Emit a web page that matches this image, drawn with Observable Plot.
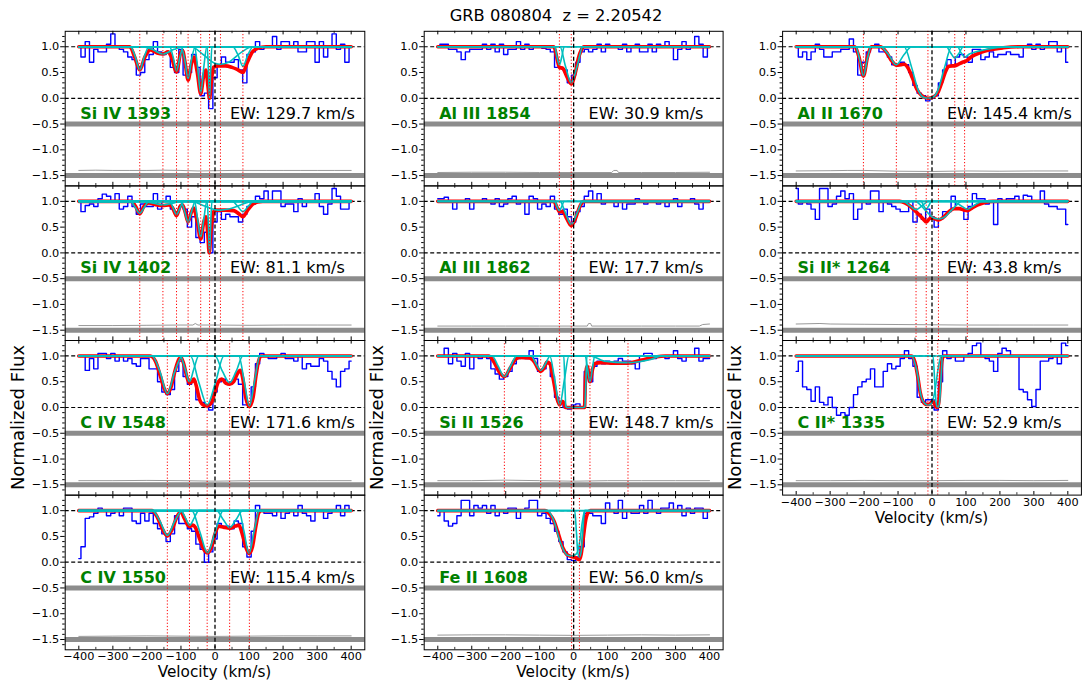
<!DOCTYPE html>
<html><head><meta charset="utf-8">
<script src="https://cdn.jsdelivr.net/npm/d3@7"></script>
<script src="https://cdn.jsdelivr.net/npm/@observablehq/plot@0.6"></script>
<style>
body{margin:0;background:#fff;font-family:"DejaVu Sans",sans-serif;}
#fig{position:relative;width:1082px;height:685px;overflow:hidden;background:#fff;}
</style></head><body><div id="fig"></div><script>
// ---------- velocity grid of the spectra (km/s) ----------
const VEL = [-400,-387.5,-375,-362.5,-350,-337.5,-325,-312.5,-300,-287.5,-275,-262.5,-250,-237.5,-225,-212.5,-200,-187.5,-175,-162.5,-150,-137.5,-125,-112.5,-100,-87.5,-75,-62.5,-50,-37.5,-25,-12.5,0,12.5,25,37.5,50,62.5,75,87.5,100,112.5,125,137.5,150,162.5,175,187.5,200,212.5,225,237.5,250,262.5,275,287.5,300,312.5,325,337.5,350,362.5,375,387.5,400];

// ---------- observed normalized flux ----------
const fSiIV1393 = [1.0,0.8,1.1,0.7,0.95,0.9,0.9,1.05,1.25,1.0,0.95,0.9,0.8,0.75,0.45,0.5,0.75,0.85,1.1,0.9,0.85,0.88,0.6,0.5,0.95,0.45,0.5,0.85,0.6,0.05,0.1,-0.2,0.4,0.65,0.8,0.7,0.7,0.75,0.55,0.3,0.85,0.9,1.1,0.95,1.0,1.0,1.2,0.95,1.1,1.1,1.0,1.1,0.9,0.9,1.1,1.1,0.7,1.1,0.8,1.0,1.25,0.95,1.05,0.7,1.0];
const fSiIV1402 = [1.0,0.8,0.92,0.95,0.9,1.05,1.14,1.1,1.0,1.15,0.85,0.9,1.1,0.9,0.75,0.95,0.9,0.9,1.15,0.85,1.0,1.1,0.85,0.8,0.9,0.85,0.5,0.7,0.3,0.2,0.4,0.0,0.6,0.8,0.65,0.75,0.7,0.7,0.6,0.75,0.9,0.95,1.1,1.05,1.2,1.0,1.2,1.2,0.9,0.95,0.95,0.8,1.05,0.9,1.0,1.0,1.15,0.9,0.75,0.95,1.25,1.1,0.85,0.85,1.0];
const fCIV1548 = [1.0,1.0,0.72,0.95,0.75,1.05,1.05,0.95,1.05,0.9,1.0,0.9,0.95,0.85,0.8,0.95,0.95,0.75,0.75,0.5,0.3,0.25,0.35,0.7,0.9,0.6,0.45,0.5,0.15,0.1,0.05,-0.05,0.3,0.5,0.55,0.45,0.5,0.55,0.45,0.05,0.05,0.4,0.85,1.05,1.0,0.95,0.95,1.0,1.05,0.95,0.95,0.9,1.0,0.75,0.85,0.8,0.8,0.95,0.9,0.7,0.55,0.4,0.7,0.75,0.9];
const fCIV1550 = [0.07,0.3,0.85,0.88,0.95,1.05,1.0,0.9,0.95,1.0,0.9,1.05,1.05,0.8,0.75,0.95,0.8,0.95,0.75,0.65,0.55,0.4,0.55,0.9,0.75,0.75,0.65,0.6,0.35,0.25,0.0,0.2,0.45,0.75,0.7,0.7,0.65,0.8,0.75,0.3,0.1,0.6,1.1,1.0,0.95,0.95,0.9,1.0,0.85,0.95,1.0,0.9,1.1,0.95,0.9,0.8,1.0,1.0,0.85,0.95,1.0,1.1,0.9,1.1,1.0];
const fAlIII1854 = [1.0,1.05,1.05,0.95,0.95,0.9,0.75,0.9,0.95,0.95,0.95,1.05,0.95,1.05,0.9,1.05,0.85,0.95,0.95,1.1,0.95,1.05,0.95,1.0,1.0,0.97,0.95,0.9,0.6,0.6,0.55,0.3,0.45,0.7,0.9,0.95,0.9,0.95,1.05,0.9,1.05,1.0,1.0,0.95,1.05,0.9,1.0,1.05,0.9,0.9,1.05,0.9,1.05,1.0,1.1,1.0,0.75,0.95,1.1,0.95,1.0,1.2,1.05,0.8,1.0];
const fAlIII1862 = [1.05,1.05,1.08,1.0,0.85,1.0,1.0,1.05,0.85,1.0,1.0,1.05,1.0,0.95,1.05,0.9,0.95,1.05,1.1,0.95,1.0,0.75,1.1,1.05,0.85,0.95,0.9,1.1,0.85,0.75,0.85,0.7,0.6,0.8,0.9,1.1,1.2,1.0,1.15,0.95,1.0,1.0,0.9,1.0,0.85,0.95,0.95,1.05,1.0,0.95,1.0,1.0,0.95,1.0,0.9,1.0,1.05,0.9,1.0,1.0,1.05,0.95,0.85,1.0,1.0];
const fSiII1526 = [1.0,1.0,1.15,0.85,1.05,0.9,0.8,1.05,0.75,1.0,0.95,1.0,0.95,0.75,0.65,0.55,0.6,0.7,0.85,0.95,1.0,0.95,1.1,0.95,0.7,0.75,0.85,0.6,0.2,0.1,0.0,-0.03,0.05,0.07,0.0,0.7,0.5,0.8,0.9,0.85,0.9,0.85,0.9,0.95,0.9,0.9,0.85,0.75,1.0,1.05,1.05,0.95,1.0,1.0,0.95,1.0,1.1,0.95,0.9,1.0,1.0,1.15,0.9,0.95,0.95];
const fFeII1608 = [0.9,1.0,0.8,0.7,0.75,0.9,1.2,1.2,0.9,1.1,1.05,1.1,0.95,1.1,0.9,1.0,0.95,1.05,1.05,0.85,1.0,1.05,1.2,1.2,0.9,0.95,0.85,0.75,0.6,0.4,0.2,0.05,0.03,0.1,0.3,0.95,0.95,0.9,0.9,0.75,1.15,1.0,0.95,1.2,0.85,1.0,0.95,0.95,1.1,0.95,1.2,1.0,0.95,1.05,1.05,1.15,1.0,1.1,0.9,1.05,0.95,1.05,1.05,0.85,1.0];
const fAlII1670 = [1.0,0.8,0.9,0.75,0.9,1.05,0.95,0.8,0.8,0.9,0.9,0.95,0.95,1.15,0.9,0.45,0.7,0.9,1.0,1.05,0.9,0.9,0.8,0.65,0.65,0.7,0.65,0.5,0.25,0.1,0.05,-0.05,0.0,0.05,0.3,0.55,0.75,0.65,0.8,0.85,0.8,0.7,0.95,0.95,0.75,0.8,0.9,0.8,0.85,0.85,0.9,0.85,0.85,0.8,1.0,1.05,0.95,1.05,0.95,1.0,1.1,1.1,0.9,1.0,0.7];
const fSiIIs1264 = [1.25,0.95,1.0,0.95,0.85,0.65,1.25,1.25,0.9,0.95,1.1,1.2,1.05,1.15,0.65,0.85,1.0,0.95,1.2,1.2,0.8,1.0,0.95,0.9,0.85,0.8,0.8,1.0,0.6,0.75,0.65,0.85,0.7,0.5,0.65,0.8,0.8,1.1,0.85,0.85,0.65,0.9,1.15,1.05,1.05,0.95,1.0,0.55,1.05,1.0,1.05,1.05,1.1,1.0,1.12,1.1,1.0,1.0,1.2,0.95,0.9,0.9,0.85,0.85,0.55];
const fCIIs1335 = [0.7,0.9,0.4,0.35,0.12,0.4,0.1,0.05,0.2,0.0,-0.15,-0.1,-0.15,0.0,0.25,0.4,0.5,0.55,0.75,0.4,0.4,0.7,0.85,0.75,0.8,0.95,1.1,0.95,0.8,0.2,0.1,0.15,0.15,-0.05,0.5,1.1,0.95,1.0,0.9,0.9,1.0,1.05,1.2,1.25,1.0,0.95,0.9,0.7,1.05,1.15,1.1,1.0,1.0,0.35,0.3,0.15,0.02,0.35,0.9,0.9,0.95,1.0,0.85,1.25,1.2];

// ---------- flux errors [velocity, sigma] (drawn at -1.5 + sigma) ----------
const eSiIV1393 = [[-400,0.1],[-350,0.105],[-300,0.1],[-250,0.1],[-200,0.1],[-150,0.105],[-100,0.1],[-50,0.09],[0,0.095],[50,0.1],[100,0.1],[150,0.1],[200,0.1],[250,0.1],[300,0.1],[350,0.1],[400,0.1]];
const eSiIV1402 = [[-400,0.09],[-300,0.09],[-200,0.095],[-100,0.1],[-65,0.1],[-58,0.13],[-50,0.1],[0,0.1],[100,0.095],[200,0.1],[300,0.1],[400,0.1]];
const eCIV1548 = [[-400,0.08],[-300,0.08],[-200,0.085],[-100,0.08],[0,0.07],[100,0.08],[200,0.08],[300,0.08],[400,0.08]];
const eCIV1550 = [[-400,0.06],[-300,0.065],[-200,0.07],[-100,0.065],[0,0.06],[100,0.065],[200,0.07],[300,0.07],[400,0.07]];
const eAlIII1854 = [[-400,0.06],[-300,0.065],[-200,0.065],[-100,0.06],[0,0.06],[112,0.06],[118,0.1],[128,0.1],[132,0.06],[200,0.06],[300,0.06],[400,0.065]];
const eAlIII1862 = [[-400,0.08],[-300,0.08],[-200,0.08],[-100,0.08],[0,0.08],[40,0.08],[44,0.13],[50,0.13],[53,0.08],[200,0.08],[300,0.08],[370,0.08],[380,0.11],[400,0.12]];
const eSiII1526 = [[-400,0.08],[-300,0.08],[-200,0.09],[-100,0.08],[0,0.07],[100,0.08],[200,0.08],[300,0.08],[400,0.08]];
const eFeII1608 = [[-400,0.085],[-300,0.09],[-200,0.09],[-100,0.085],[0,0.08],[100,0.085],[200,0.09],[300,0.085],[400,0.09]];
const eAlII1670 = [[-400,0.09],[-300,0.095],[-250,0.1],[-200,0.1],[-100,0.085],[0,0.08],[100,0.09],[200,0.085],[300,0.09],[400,0.09]];
const eSiIIs1264 = [[-400,0.12],[-330,0.13],[-300,0.12],[-200,0.115],[-100,0.11],[0,0.105],[100,0.1],[200,0.1],[300,0.1],[400,0.1]];
const eCIIs1335 = [[-400,0.08],[-300,0.08],[-200,0.085],[-100,0.08],[0,0.08],[100,0.085],[200,0.085],[300,0.08],[400,0.085]];

// ---------- total model [velocity, flux] ----------
const mSiIV1393 = [[-400,1],[-250,1],[-236,0.8],[-221,0.55],[-206,0.8],[-190,0.94],[-170,0.88],[-153,0.86],[-138,0.9],[-128,0.8],[-113,0.51],[-100,0.9],[-95,0.92],[-88,0.7],[-79,0.35],[-70,0.65],[-62,0.8],[-52,0.5],[-42,0.09],[-33,0.45],[-27,0.55],[-21,0.25],[-16,0.0],[-11,0.3],[-5,0.6],[10,0.63],[30,0.63],[50,0.6],[65,0.56],[82,0.5],[95,0.7],[110,0.9],[125,0.97],[150,1],[400,1]];
const mSiIV1402 = [[-400,1],[-245,1],[-233,0.9],[-221,0.76],[-209,0.9],[-195,0.97],[-170,0.93],[-153,0.92],[-135,0.93],[-125,0.88],[-113,0.72],[-101,0.92],[-95,0.93],[-88,0.8],[-79,0.6],[-70,0.78],[-63,0.87],[-52,0.6],[-42,0.27],[-33,0.6],[-27,0.7],[-21,0.35],[-17,0.0],[-12,0.4],[-5,0.78],[0,0.83],[30,0.83],[55,0.82],[70,0.76],[82,0.7],[95,0.82],[110,0.94],[125,0.99],[140,1],[400,1]];
const mCIV1548 = [[-400,1],[-190,1],[-175,0.9],[-160,0.6],[-150,0.38],[-140,0.27],[-130,0.38],[-118,0.7],[-105,0.95],[-100,0.97],[-92,0.85],[-83,0.6],[-75,0.47],[-68,0.5],[-62,0.55],[-55,0.42],[-45,0.15],[-35,0.05],[-23,0.03],[-10,0.1],[0,0.3],[10,0.5],[20,0.55],[32,0.47],[43,0.45],[55,0.5],[65,0.65],[75,0.72],[82,0.55],[90,0.2],[101,0.02],[112,0.2],[120,0.6],[128,0.9],[135,1],[400,1]];
const mCIV1550 = [[-400,1],[-185,1],[-170,0.88],[-155,0.65],[-140,0.51],[-125,0.65],[-112,0.88],[-101,0.98],[-90,0.85],[-80,0.72],[-74,0.69],[-65,0.72],[-58,0.68],[-45,0.45],[-33,0.25],[-22,0.18],[-10,0.3],[0,0.55],[11,0.7],[25,0.68],[43,0.66],[60,0.7],[70,0.72],[80,0.55],[90,0.3],[100,0.17],[110,0.3],[120,0.7],[128,0.95],[135,1],[400,1]];
const mAlIII1854 = [[-400,1],[-58,1],[-50,0.8],[-42,0.6],[-32,0.58],[-20,0.42],[-7,0.28],[5,0.5],[15,0.8],[22,0.93],[30,1],[400,1]];
const mAlIII1862 = [[-400,1],[-58,1],[-50,0.9],[-42,0.8],[-32,0.8],[-20,0.66],[-7,0.53],[5,0.66],[15,0.85],[22,0.95],[30,1],[400,1]];
const mSiII1526 = [[-400,1],[-250,1],[-236,0.9],[-220,0.7],[-204,0.6],[-188,0.75],[-172,0.93],[-160,0.97],[-130,0.96],[-115,0.88],[-104,0.74],[-97,0.7],[-88,0.76],[-78,0.88],[-70,0.85],[-60,0.55],[-50,0.2],[-41,0.05],[-34,0.12],[-28,0.08],[-24,0.0],[32,0.0],[35,0.6],[40,0.8],[48,0.5],[56,0.75],[65,0.86],[80,0.87],[120,0.86],[160,0.86],[200,0.92],[240,0.98],[270,1],[400,1]];
const mFeII1608 = [[-400,1],[-85,1],[-70,0.93],[-58,0.8],[-45,0.55],[-32,0.28],[-18,0.14],[-6,0.11],[5,0.09],[12,0.06],[17,0.05],[22,0.15],[28,0.45],[35,0.8],[42,0.96],[50,1],[400,1]];
const mAlII1670 = [[-400,1],[-228,1],[-215,0.8],[-202,0.43],[-190,0.8],[-178,1],[-152,1],[-135,0.9],[-118,0.72],[-105,0.64],[-92,0.65],[-82,0.66],[-70,0.58],[-58,0.4],[-45,0.18],[-30,0.05],[-12,0.0],[5,0.03],[18,0.12],[30,0.33],[40,0.52],[50,0.62],[60,0.63],[67,0.63],[80,0.67],[90,0.7],[100,0.72],[115,0.8],[140,0.88],[170,0.94],[210,0.98],[260,1],[400,1]];
const mSiIIs1264 = [[-400,1],[-95,1],[-80,0.97],[-63,0.9],[-47,0.8],[-35,0.72],[-25,0.65],[-17,0.6],[-8,0.66],[0,0.68],[19,0.64],[35,0.7],[50,0.8],[65,0.86],[80,0.86],[95,0.83],[104,0.82],[118,0.87],[135,0.93],[155,0.98],[180,1],[400,1]];
const mCIIs1335 = [[-400,1],[-60,1],[-50,0.88],[-42,0.6],[-35,0.3],[-27,0.12],[-18,0.06],[-8,0.06],[-2,0.1],[2,0.12],[7,0.08],[12,0.01],[17,0.0],[21,0.15],[25,0.55],[29,0.9],[34,1],[400,1]];

// ---------- individual components [velocity, flux] ----------
const cSiIV1393 = [
 [[-248,1],[-234,0.8],[-221,0.55],[-208,0.8],[-194,1]],
 [[-215,1],[-185,0.95],[-153,0.86],[-120,0.95],[-90,1]],
 [[-133,1],[-123,0.8],[-113,0.53],[-103,0.8],[-93,1]],
 [[-100,1],[-89,0.75],[-79,0.38],[-69,0.75],[-58,1]],
 [[-60,1],[-51,0.6],[-42,0.1],[-33,0.6],[-24,1]],
 [[-23,1],[-19,0.5],[-16,0.0],[-13,0.5],[-9,1]],
 [[-70,1],[-35,0.85],[0,0.68],[16,0.66],[40,0.7],[75,0.88],[110,1]],
 [[52,1],[67,0.85],[82,0.62],[97,0.85],[112,1]]];
const cSiIV1402 = [
 [[-248,1],[-234,0.88],[-221,0.77],[-208,0.88],[-194,1]],
 [[-215,1],[-185,0.97],[-153,0.93],[-120,0.97],[-90,1]],
 [[-133,1],[-123,0.87],[-113,0.74],[-103,0.87],[-93,1]],
 [[-100,1],[-89,0.8],[-79,0.6],[-69,0.8],[-58,1]],
 [[-60,1],[-51,0.65],[-42,0.3],[-33,0.65],[-24,1]],
 [[-23,1],[-19,0.5],[-16,0.0],[-13,0.5],[-9,1]],
 [[-70,1],[-35,0.92],[0,0.84],[16,0.83],[40,0.85],[75,0.93],[110,1]],
 [[52,1],[67,0.9],[82,0.8],[97,0.9],[112,1]]];
const cCIV1548 = [
 [[-185,1],[-162,0.7],[-140,0.27],[-118,0.7],[-96,1]],
 [[-102,1],[-88,0.75],[-75,0.5],[-62,0.75],[-48,1]],
 [[-72,1],[-48,0.5],[-23,0.05],[2,0.5],[26,1]],
 [[0,1],[22,0.7],[43,0.48],[62,0.7],[82,1]],
 [[70,1],[86,0.5],[101,0.03],[116,0.5],[132,1]]];
const cCIV1550 = [
 [[-184,1],[-162,0.8],[-140,0.52],[-118,0.8],[-96,1]],
 [[-100,1],[-87,0.86],[-74,0.72],[-61,0.86],[-48,1]],
 [[-68,1],[-45,0.6],[-22,0.18],[1,0.6],[24,1]],
 [[5,1],[24,0.83],[43,0.67],[62,0.83],[81,1]],
 [[70,1],[85,0.6],[100,0.17],[115,0.6],[130,1]]];
const cAlIII1854 = [
 [[-56,1],[-49,0.8],[-42,0.65],[-35,0.8],[-28,1]],
 [[-40,1],[-24,0.62],[-7,0.3],[10,0.62],[27,1]]];
const cAlIII1862 = [
 [[-56,1],[-49,0.9],[-42,0.82],[-35,0.9],[-28,1]],
 [[-40,1],[-24,0.77],[-7,0.55],[10,0.77],[27,1]]];
const cSiII1526 = [
 [[-240,1],[-222,0.8],[-204,0.6],[-186,0.8],[-168,1]],
 [[-125,1],[-111,0.85],[-97,0.72],[-83,0.85],[-69,1]],
 [[-70,1],[-56,0.55],[-41,0.05],[-27,0.55],[-14,1]],
 [[-29,1],[-26,0.5],[-23,0.02],[-20,0],[30,0],[33,0.02],[36,0.5],[39,1]],
 [[34,1],[41,0.75],[48,0.5],[55,0.75],[62,1]],
 [[50,1],[90,0.9],[160,0.87],[220,0.92],[262,1]]];
const cFeII1608 = [
 [[-78,1],[-58,0.8],[-40,0.4],[-20,0.14],[-6,0.12],[8,0.16],[18,0.4],[26,0.8],[33,1]],
 [[3,1],[8,0.6],[12,0.2],[17,0.1],[22,0.2],[27,0.6],[32,1]]];
const cAlII1670 = [
 [[-225,1],[-213,0.75],[-202,0.43],[-191,0.75],[-179,1]],
 [[-152,1],[-128,0.85],[-105,0.65],[-82,0.85],[-60,1]],
 [[-82,1],[-60,0.6],[-40,0.15],[-25,0.02],[-12,0.0],[2,0.02],[17,0.15],[37,0.6],[58,1]],
 [[42,1],[55,0.88],[67,0.78],[80,0.88],[92,1]],
 [[75,1],[86,0.88],[96,0.8],[110,0.86],[140,0.92],[180,0.97],[230,1]]];
const cSiIIs1264 = [
 [[-85,1],[-66,0.92],[-47,0.84],[-28,0.92],[-10,1]],
 [[-32,1],[-25,0.92],[-17,0.85],[-9,0.92],[-2,1]],
 [[-50,1],[-20,0.83],[0,0.7],[19,0.66],[38,0.7],[58,0.83],[88,1]],
 [[60,1],[82,0.93],[104,0.85],[126,0.93],[148,1]]];
const cCIIs1335 = [
 [[-60,1],[-45,0.72],[-32,0.22],[-20,0.07],[-12,0.05],[-3,0.07],[8,0.3],[18,0.75],[27,1]],
 [[3,1],[8,0.5],[12,0.1],[17,0.0],[22,0.1],[26,0.5],[31,1]]];

// ---------- component velocities (red dotted lines) ----------
const lSiIV = [-221,-153,-113,-79,-42,-16,16,82];
const lCIV = [-140,-75,-23,43,101];
const lAlIII = [-42,-7];
const lSiII = [-204,-97,-41,-7,48,160];
const lFeII = [-6,17];
const lAlII = [-202,-105,-12,67,96];
const lSiIIs = [-47,-17,19,104];
const lCIIs = [-12,17];

// ---------- labels and ticks ----------
const ions = ["Si IV 1393","Si IV 1402","C IV 1548","C IV 1550","Al III 1854","Al III 1862","Si II 1526","Fe II 1608","Al II 1670","Si II* 1264","C II* 1335"];
const ews = ["129.7","81.1","171.6","115.4","30.9","17.7","148.7","56.0","145.4","43.8","52.9"];
const xTicks = [-400,-300,-200,-100,0,100,200,300,400];
const xMinor = [-350,-250,-150,-50,50,150,250,350];
const yTicks = [-1.5,-1.0,-0.5,0.0,0.5,1.0];
const yMinor = [-1.6,-1.4,-1.3,-1.2,-1.1,-0.9,-0.8,-0.7,-0.6,-0.4,-0.3,-0.2,-0.1,0.1,0.2,0.3,0.4,0.6,0.7,0.8,0.9,1.1,1.2];
const TITLE = "GRB 080804\u00a0\u00a0z = 2.20542";

const PANELS = [
 {col:0,row:0,flux:fSiIV1393,err:eSiIV1393,model:mSiIV1393,comps:cSiIV1393,lines:lSiIV},
 {col:0,row:1,flux:fSiIV1402,err:eSiIV1402,model:mSiIV1402,comps:cSiIV1402,lines:lSiIV},
 {col:0,row:2,flux:fCIV1548,err:eCIV1548,model:mCIV1548,comps:cCIV1548,lines:lCIV},
 {col:0,row:3,flux:fCIV1550,err:eCIV1550,model:mCIV1550,comps:cCIV1550,lines:lCIV,bottom:true},
 {col:1,row:0,flux:fAlIII1854,err:eAlIII1854,model:mAlIII1854,comps:cAlIII1854,lines:lAlIII},
 {col:1,row:1,flux:fAlIII1862,err:eAlIII1862,model:mAlIII1862,comps:cAlIII1862,lines:lAlIII},
 {col:1,row:2,flux:fSiII1526,err:eSiII1526,model:mSiII1526,comps:cSiII1526,lines:lSiII},
 {col:1,row:3,flux:fFeII1608,err:eFeII1608,model:mFeII1608,comps:cFeII1608,lines:lFeII,bottom:true},
 {col:2,row:0,flux:fAlII1670,err:eAlII1670,model:mAlII1670,comps:cAlII1670,lines:lAlII},
 {col:2,row:1,flux:fSiIIs1264,err:eSiIIs1264,model:mSiIIs1264,comps:cSiIIs1264,lines:lSiIIs},
 {col:2,row:2,flux:fCIIs1335,err:eCIIs1335,model:mCIIs1335,comps:cCIIs1335,lines:lCIIs,bottom:true}
];
PANELS.forEach((p,i)=>{p.name=ions[i];p.ew=ews[i];});

// ---------- layout ----------
const colL = [64.7, 423.7, 782.1], colR = [364.3, 722.6, 1080.9];
const rowT = [30.8, 185.4, 340.0, 494.7], rowH = 154.6;
const YMIN = -1.7, YMAX = 1.3;
const UNIT = rowH / (YMAX - YMIN);          // px per flux unit
const TMAJ = 3.6 / UNIT, TMIN = 2.4 / UNIT; // inward x tick lengths in flux units
const CYAN = "#00bfbf";
const fig = document.getElementById("fig");
const fmtX = d3.format("d"), fmtY = d3.format(".1f");
const px = d => d[0], py = d => d[1];

for (const p of PANELS) {
  const fl = colL[p.col], fr = colR[p.col], ft = rowT[p.row], fb = ft + rowH;
  const sl = Math.floor(fl) - 46, st = Math.floor(ft) - 6;
  const W = Math.ceil(fr) - sl + 6, H = Math.ceil(fb) - st + 30;
  const spec = VEL.map((v,i)=>({v, f:p.flux[i]}));
  const marks = [
    Plot.ruleY([-0.5,-1.5], {stroke:"#8c8c8c", strokeWidth:5}),
    Plot.ruleY([0,1], {stroke:"black", strokeWidth:1.2, strokeDasharray:"4,2.5"}),
    Plot.line(p.err, {x:px, y:d=>-1.5+d[1], stroke:"#999", strokeWidth:1}),
    Plot.line(spec, {x:"v", y:"f", curve:"step", stroke:"blue", strokeWidth:1.4}),
    Plot.line(p.model, {x:px, y:py, curve:"monotone-x", stroke:"red", strokeWidth:3.6}),
    Plot.line([[-400,1],[400,1]], {x:px, y:py, stroke:CYAN, strokeWidth:1.6}),
    ...p.comps.map(c => Plot.line([[-400,1], ...c, [400,1]], {x:px, y:py, curve:"monotone-x", stroke:CYAN, strokeWidth:1.6})),
    Plot.ruleX(p.lines, {stroke:"red", strokeWidth:1, strokeDasharray:"1.2,2"}),
    Plot.ruleX([0], {stroke:"black", strokeWidth:1.3, strokeDasharray:"4,2.5"}),
    Plot.text([{x:-396, y:-0.3, t:p.name}], {x:"x", y:"y", text:"t", textAnchor:"start", fill:"green", fontWeight:"bold", fontSize:16}),
    Plot.text([{x:44, y:-0.3, t:"EW: " + p.ew + " km/s"}], {x:"x", y:"y", text:"t", textAnchor:"start", fill:"black", fontSize:16}),
    // inward x ticks, bottom and top
    Plot.ruleX(xTicks, {y1:YMIN, y2:YMIN + TMAJ, stroke:"black", strokeWidth:1}),
    Plot.ruleX(xMinor, {y1:YMIN, y2:YMIN + TMIN, stroke:"black", strokeWidth:0.8}),
    Plot.ruleX(xTicks, {y1:YMAX - TMAJ, y2:YMAX, stroke:"black", strokeWidth:1}),
    Plot.ruleX(xMinor, {y1:YMAX - TMIN, y2:YMAX, stroke:"black", strokeWidth:0.8}),
    // x tick labels only under the lowest panel of each column
    Plot.axisX({ticks:xTicks, tickSize:0, tickPadding:2.5, tickFormat: p.bottom ? fmtX : () => "", label:null}),
    Plot.axisY({ticks:yTicks, tickSize:4.5, tickPadding:1.5, tickFormat:fmtY, label:null}),
    Plot.axisY({ticks:yMinor, tickSize:2.5, tickFormat:() => "", label:null}),
    Plot.frame({stroke:"black", strokeWidth:1})
  ];
  const svg = Plot.plot({
    width: W, height: H,
    marginLeft: fl - sl, marginRight: W - (fr - sl),
    marginTop: ft - st, marginBottom: H - (fb - st),
    x: {domain:[-440,440]}, y: {domain:[YMIN,YMAX]},
    style: {position:"absolute", left: sl + "px", top: st + "px", background:"transparent", overflow:"visible", fontFamily:"DejaVu Sans", fontSize:"11.3px", color:"black"},
    marks
  });
  fig.appendChild(svg);
}

// ---------- figure texts ----------
const ov = d3.select(fig).append("svg").attr("width",1082).attr("height",685)
  .style("position","absolute").style("left","0px").style("top","0px").style("overflow","visible")
  .style("font-family","DejaVu Sans");
ov.append("text").attr("x",556).attr("y",21).attr("text-anchor","middle").attr("font-size",16.3)
  .style("white-space","pre").text(TITLE);
const xl = [[214.5,677],[573.2,677],[931.5,522.5]];
for (const [x,y] of xl) ov.append("text").attr("x",x).attr("y",y).attr("text-anchor","middle").attr("font-size",15.3).text("Velocity (km/s)");
for (const x of [24, 383, 741.4]) ov.append("text").attr("transform",`translate(${x},417.5) rotate(-90)`).attr("text-anchor","middle").attr("font-size",18).text("Normalized Flux");
</script></body></html>
